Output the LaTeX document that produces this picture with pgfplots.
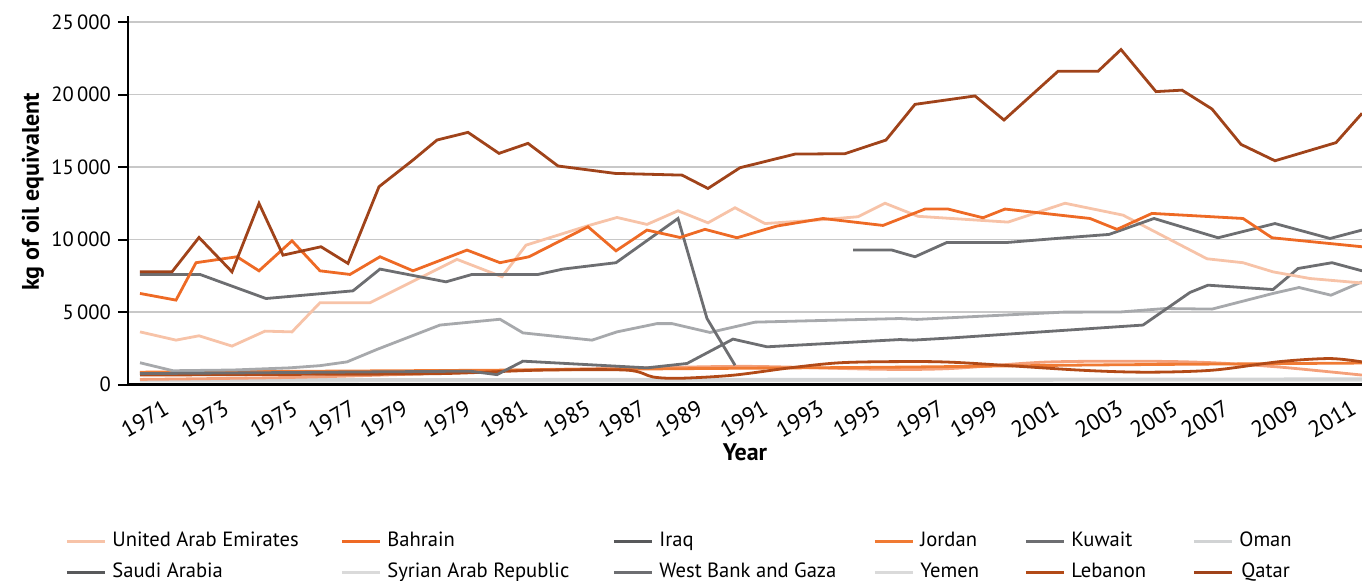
\documentclass[border=0pt]{standalone}
\usepackage{pgfplots}
\pgfplotsset{compat=1.18}
\usepackage{fontspec}
\setmainfont{PT Sans}
\definecolor{cQatar}{HTML}{A0431A}
\definecolor{cLeb}{HTML}{B24A17}
\definecolor{cBah}{HTML}{EE6A25}
\definecolor{cJor}{HTML}{F07A33}
\definecolor{cSal}{HTML}{F4A07A}
\definecolor{cUAE}{HTML}{F7C3A8}
\definecolor{cKuw}{HTML}{6D6E71}
\definecolor{cDark}{HTML}{58595B}
\definecolor{cMid}{HTML}{A7A9AC}
\definecolor{cLight}{HTML}{D1D3D4}
\definecolor{cLight2}{HTML}{DADADA}
\definecolor{cGrid}{HTML}{C8C8C8}
\begin{document}
\fontsize{10pt}{12pt}\selectfont
\begin{tikzpicture}
\begin{axis}[
  scale only axis, width=617pt, height=184.15pt,
  xmin=128, xmax=1362, ymin=0, ymax=25400,
  scaled y ticks=false, scaled x ticks=false,
  axis x line=bottom, axis y line=left,
  axis line style={-, line width=1.3pt, black},
  ytick={0,5000,10000,15000,20000,25000},
  yticklabels={0,5\,000,10\,000,15\,000,20\,000,25\,000},
  ymajorgrids, grid style={cGrid, line width=0.7pt},
  ytick align=outside, major tick length=5pt,
  ytick style={black, line width=1pt},
  xtick={165,225,294,352,404,467,524,587,642,699,764,820,877,940,994,1055,1119,1174,1225,1295,1352},
  xticklabels={1971,1973,1975,1977,1979,1979,1981,1985,1987,1989,1991,1993,1995,1997,1999,2001,2003,2005,2007,2009,2011},
  xtick style={draw=none},
  xticklabel style={rotate=30, anchor=north east, font=\fontsize{11.5pt}{13pt}\selectfont},
  yticklabel style={font=\fontsize{10.3pt}{12pt}\selectfont},
  xlabel={\bfseries Year},
  ylabel={\bfseries kg of oil equivalent},
  xlabel style={at={(axis description cs:0.5,-0.183)}, anchor=center, font=\fontsize{12pt}{14pt}\selectfont},
  ylabel style={at={(axis description cs:-0.077,0.523)}, anchor=center, rotate=0, font=\fontsize{12pt}{14pt}\selectfont},
  legend columns=6,
  legend image code/.code={\draw[#1, line width=1.5pt] (0pt,0pt) -- (19pt,0pt);},
  legend style={draw=none, fill=none, at={(axis description cs:-0.0559,-0.379)}, anchor=north west,
    column sep=0pt, row sep=2.5pt, font=\fontsize{10.3pt}{12pt}\selectfont,
    nodes={inner xsep=3pt, inner ysep=2pt, text height=7pt, text depth=2pt}},
  every axis plot/.append style={line width=1.4pt},
]
% low lines first
\addplot[cLight2, forget plot] coordinates {(140,240)(500,260)(900,280)(1362,300)};
\addplot[cLight, forget plot] coordinates {(140,330)(500,350)(900,370)(1362,390)};
\addplot[cSal, smooth, forget plot] coordinates {(140,350)(300,500)(450,800)(520,1000)(650,1150)(750,1250)(880,1050)(950,1100)(1047,1550)(1150,1600)(1213,1500)(1280,1200)(1362,650)};
\addplot[cJor, smooth, forget plot] coordinates {(140,850)(400,950)(520,1000)(700,1100)(900,1200)(1100,1350)(1362,1480)};
\addplot[cLeb, smooth, forget plot] coordinates {(140,650)(300,700)(440,750)(540,990)(627,990)(653,520)(680,430)(733,640)(790,1150)(840,1500)(900,1580)(957,1520)(1080,990)(1147,850)(1213,990)(1280,1580)(1330,1790)(1362,1560)};
\addplot[cMid, forget plot] coordinates {(140,1500)(173,950)(233,1000)(290,1150)(320,1300)(347,1560)(377,2420)(440,4100)(500,4500)(523,3560)(592,3060)(617,3630)(657,4200)(672,4200)(710,3590)(755,4300)(900,4550)(917,4490)(1063,4990)(1120,5000)(1165,5240)(1212,5200)(1273,6280)(1299,6690)(1331,6160)(1362,7080)};
\addplot[cKuw, forget plot] coordinates {(140,750)(470,920)(497,680)(523,1610)(647,1150)(687,1450)(733,3130)(767,2600)(900,3100)(913,3060)(953,3220)(1143,4100)(1190,6350)(1208,6850)(1273,6550)(1298,8000)(1332,8400)(1362,7840)};
\addplot[cUAE, forget plot] coordinates {(140,3630)(176,3060)(199,3360)(232,2650)(265,3680)(292,3630)(320,5640)(370,5640)(457,8630)(502,7430)(526,9610)(588,10950)(617,11520)(647,11040)(678,11980)(708,11150)(735,12190)(765,11100)(817,11340)(858,11570)(885,12500)(918,11600)(1008,11200)(1065,12500)(1123,11680)(1207,8670)(1243,8400)(1273,7770)(1310,7310)(1362,7000)};
\addplot[cKuw, forget plot] coordinates {(140,7590)(200,7590)(266,5930)(353,6460)(380,7960)(446,7080)(472,7590)(538,7590)(563,7960)(616,8400)(678,11450)(707,4550)(735,1330)};
\addplot[cKuw, forget plot] coordinates {(853,9270)(892,9270)(915,8810)(947,9800)(1008,9800)(1065,10120)(1109,10350)(1154,11450)(1218,10120)(1275,11100)(1330,10070)(1362,10650)};
\addplot[cBah, forget plot] coordinates {(140,6280)(176,5820)(196,8400)(237,8810)(259,7840)(292,9910)(320,7840)(350,7590)(380,8810)(413,7840)(467,9270)(500,8400)(529,8810)(588,10880)(616,9220)(647,10650)(680,10140)(705,10700)(737,10120)(777,10930)(823,11450)(883,10970)(925,12100)(948,12100)(983,11500)(1005,12100)(1090,11450)(1117,10700)(1152,11800)(1243,11450)(1272,10120)(1362,9500)};
\addplot[cQatar, forget plot] coordinates {(140,7770)(172,7770)(199,10140)(232,7770)(259,12490)(283,8920)(321,9500)(348,8350)(379,13640)(413,15480)(437,16860)(468,17390)(499,15940)(528,16630)(558,15070)(615,14560)(682,14440)(708,13520)(740,14950)(795,15890)(845,15920)(886,16860)(915,19320)(975,19900)(1004,18240)(1058,21600)(1098,21600)(1121,23100)(1156,20200)(1182,20300)(1212,19000)(1241,16560)(1275,15430)(1336,16680)(1362,18700)};
% legend
\addlegendimage{cUAE}\addlegendentry{\makebox[111pt][l]{United Arab Emirates}}
\addlegendimage{cBah}\addlegendentry{\makebox[109.5pt][l]{Bahrain}}
\addlegendimage{cDark}\addlegendentry{\makebox[104pt][l]{Iraq}}
\addlegendimage{cJor}\addlegendentry{\makebox[49pt][l]{Jordan}}
\addlegendimage{cKuw}\addlegendentry{\makebox[57.5pt][l]{Kuwait}}
\addlegendimage{cLight}\addlegendentry{Oman}
\addlegendimage{cDark}\addlegendentry{\makebox[111pt][l]{Saudi Arabia}}
\addlegendimage{cLight2}\addlegendentry{\makebox[109.5pt][l]{Syrian Arab Republic}}
\addlegendimage{cKuw}\addlegendentry{\makebox[104pt][l]{West Bank and Gaza}}
\addlegendimage{cLight2}\addlegendentry{\makebox[49pt][l]{Yemen}}
\addlegendimage{cLeb}\addlegendentry{\makebox[57.5pt][l]{Lebanon}}
\addlegendimage{cQatar}\addlegendentry{Qatar}
\end{axis}
\pgfresetboundingbox
\useasboundingbox ([xshift=-64pt,yshift=-97.75pt]current axis.south west) rectangle ([yshift=8.1pt]current axis.north east);
\end{tikzpicture}
\end{document}
